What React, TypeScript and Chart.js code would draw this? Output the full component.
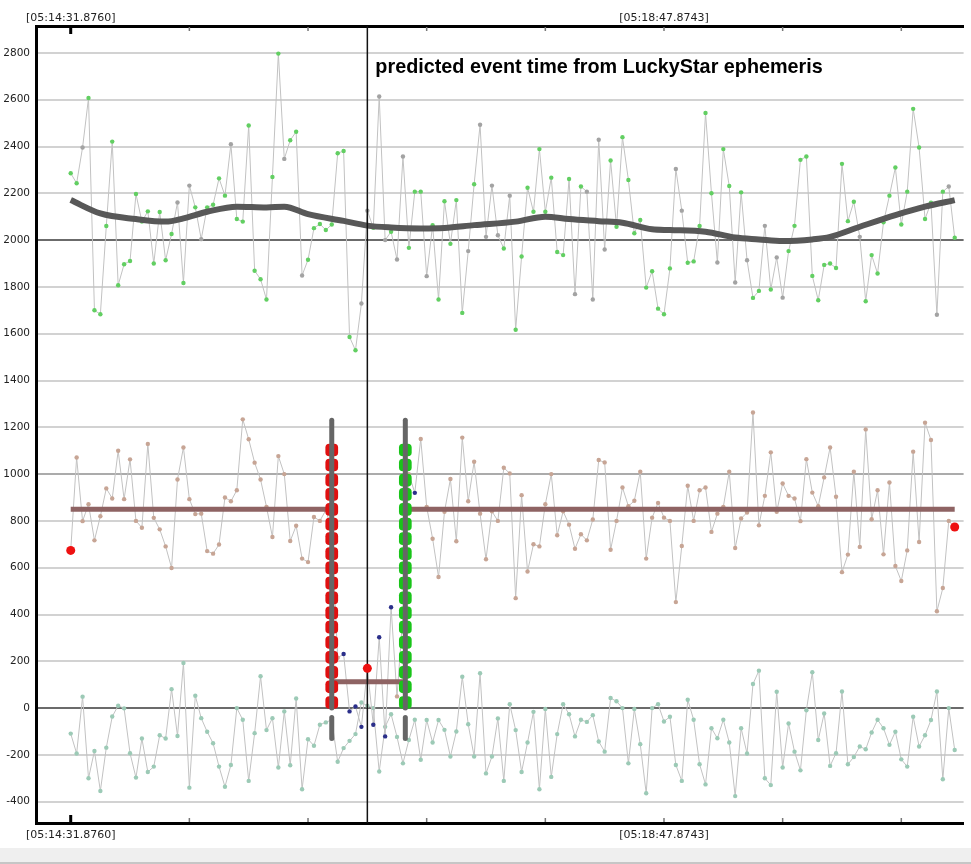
import { useEffect, useRef } from 'react'
import { Chart, registerables } from 'chart.js'

Chart.register(...registerables)

// frame index axis (2.56 s per frame)
const X_MIN = -5.85
const X_MAX = 150.5
const Y_MIN = -491
const Y_MAX = 2915
const X_TICKS = [0, 20, 40, 60, 80, 100, 120, 140]
const X_TICK_LABELS: Record<number, string> = { 0: '[05:14:31.8760]', 100: '[05:18:47.8743]' }
const Y_TICKS = [-400, -200, 0, 200, 400, 600, 800, 1000, 1200, 1400, 1600, 1800, 2000, 2200, 2400, 2600, 2800]

// comparison star (top)
const COMP = [
  2286, 2243, 2396, 2607, 1700, 1683, 2060, 2421, 1807, 1897,
  1911, 2197, 2079, 2123, 1900, 2120, 1914, 2026, 2161, 1817,
  2233, 2140, 2004, 2140, 2151, 2264, 2190, 2410, 2090, 2079,
  2490, 1869, 1833, 1746, 2270, 2797, 2347, 2427, 2463, 1849,
  1916, 2051, 2069, 2043, 2067, 2371, 2381, 1586, 1529, 1729,
  2126, 2053, 2614, 2000, 2036, 1917, 2357, 1967, 2207, 2207,
  1846, 2064, 1746, 2166, 1984, 2171, 1689, 1953, 2239, 2493,
  2014, 2233, 2021, 1964, 2190, 1617, 1930, 2224, 2121, 2389,
  2121, 2267, 1949, 1936, 2261, 1769, 2229, 2207, 1746, 2429,
  1960, 2340, 2057, 2440, 2257, 2029, 2086, 1797, 1867, 1707,
  1683, 1879, 2304, 2126, 1903, 1909, 2060, 2543, 2200, 1904,
  2389, 2231, 1819, 2204, 1914, 1753, 1783, 2061, 1789, 1926,
  1754, 1953, 2061, 2343, 2357, 1847, 1743, 1894, 1900, 1881,
  2326, 2081, 2164, 2014, 1739, 1936, 1857, 2076, 2190, 2310,
  2067, 2207, 2561, 2396, 2090, 2160, 1681, 2207, 2229, 2010,
]
const COMP_GRAY = [2, 18, 20, 22, 27, 36, 39, 49, 50, 52, 53, 55, 56, 60, 67, 69, 70, 71, 72, 74, 85, 87, 88, 89, 90, 102, 103, 109, 112, 114, 117, 119, 120, 133, 146, 148]

// smoothed comparison
const TREND_X = [0, 5, 11, 16, 19, 23, 28, 33, 36, 40, 46, 50, 54, 59, 63, 68, 75, 80, 84, 89, 93, 98, 101, 107, 112, 116, 120, 125, 128, 133, 139, 144, 149]
const TREND_Y = [2171, 2114, 2090, 2079, 2093, 2121, 2143, 2139, 2143, 2111, 2082, 2062, 2054, 2050, 2052, 2064, 2079, 2100, 2090, 2081, 2074, 2046, 2043, 2036, 2011, 2003, 1996, 2003, 2014, 2057, 2107, 2143, 2171]

// target star (middle)
const TARGET = [
  674, 1071, 799, 871, 717, 820, 939, 896, 1100, 893,
  1063, 800, 771, 1129, 813, 764, 691, 599, 977, 1114,
  893, 829, 831, 671, 660, 699, 900, 884, 931, 1234,
  1149, 1049, 977, 860, 731, 1077, 1000, 714, 779, 639,
  624, 817, 800, 846, 760, 215, 231, -14, 7, -80,
  170, -71, 303, -121, 431, 50, 400, 1000, 920, 1150,
  860, 724, 560, 839, 979, 713, 1156, 884, 1053, 831,
  636, 841, 800, 1027, 1003, 470, 910, 584, 700, 691,
  871, 1000, 739, 841, 784, 681, 743, 717, 806, 1060,
  1050, 677, 800, 943, 863, 886, 1010, 639, 814, 877,
  814, 800, 453, 693, 950, 800, 931, 943, 753, 831,
  860, 1010, 684, 810, 836, 1263, 781, 907, 1093, 839,
  960, 907, 896, 799, 1064, 921, 863, 986, 1114, 903,
  581, 656, 1010, 689, 1191, 807, 931, 657, 964, 607,
  543, 674, 1096, 710, 1220, 1146, 414, 513, 800, 774,
]
const TARGET_BLUE = [46, 47, 48, 49, 51, 52, 53, 54, 58]

// third trace (bottom)
const THIRD = [
  -109, -194, 49, -300, -183, -354, -169, -36, 10, -1,
  -193, -297, -130, -273, -250, -116, -130, 81, -119, 193,
  -340, 53, -43, -101, -150, -250, -336, -243, 0, -50,
  -311, -107, 136, -94, -43, -254, -14, -244, 41, -347,
  -133, -161, -71, -61, -50, -229, -171, -140, -111, 24,
  10, 0, -271, -80, -26, -123, -236, -136, -50, -221,
  -51, -147, -51, -93, -207, -100, 134, -69, -207, 149,
  -279, -207, -44, -311, 17, -94, -273, -147, -16, -347,
  -4, -294, -111, 17, -26, -121, -50, -59, -30, -143,
  -186, 43, 29, 0, -236, -4, -154, -364, 0, 17,
  -57, -37, -243, -311, 36, -50, -240, -326, -86, -129,
  -50, -147, -376, -86, -194, 103, 160, -300, -329, 70,
  -254, -66, -186, -266, -9, 153, -136, -23, -247, -193,
  71, -240, -209, -164, -176, -104, -50, -86, -157, -101,
  -219, -250, -37, -164, -116, -51, 71, -304, 0, -179,
]

// fitted event
const D_TIME = 44.0
const R_TIME = 56.4
const PREDICTED = 50
const BASE_LEVEL = 850
const EVENT_LEVEL = 113
const STEP_LEVELS = [24, 91, 153, 217, 281, 346, 407, 471, 534, 599, 660, 724, 786, 849, 913, 974, 1039, 1103]
const BAR_UPPER = [0, 1230]
const BAR_LOWER = [-130, -40]
const RED_X = [0, 50, 149]
const RED_Y = [674, 170, 774]

const NOTE = 'predicted event time from LuckyStar ephemeris'
const NOTE_Y = 2713

const series = (ys: number[]) => ys.map((y, i) => ({ x: i, y }))
const vline = (x: number, ys: number[]) => ys.map(y => ({ x, y }))

const overlay = {
  id: 'overlay',
  afterDatasetsDraw(chart: any) {
    const { ctx, chartArea, scales } = chart
    ctx.save()
    X_TICKS.forEach(v => {
      const px = scales.x.getPixelForValue(v)
      const big = v === 0
      const w = big ? 3 : 1.5
      const h = big ? 7 : 4
      ctx.fillStyle = big ? '#000' : '#777'
      ctx.fillRect(px - w / 2, chartArea.top + 1, w, h)
      ctx.fillRect(px - w / 2, chartArea.bottom - 1 - h, w, h)
    })
    ctx.fillStyle = '#000'
    ctx.font = 'bold 19.8px "Liberation Sans", Arial, sans-serif'
    ctx.textBaseline = 'alphabetic'
    ctx.fillText(NOTE, scales.x.getPixelForValue(PREDICTED) + 8, scales.y.getPixelForValue(NOTE_Y))
    ctx.restore()
  },
}

export default function App() {
  const canvasRef = useRef<HTMLCanvasElement>(null)
  const chartRef = useRef<Chart | null>(null)

  useEffect(() => {
    document.body.style.margin = '0'
    if (!canvasRef.current) return
    if (chartRef.current) chartRef.current.destroy()

    const seriesStyle = {
      borderColor: '#c2c2c2',
      borderWidth: 1,
      pointRadius: 2.2,
      pointBorderWidth: 0,
      order: 8,
    }
    const xAxis = (position: 'top' | 'bottom', height: number, padding: number) => ({
      type: 'linear' as const,
      position,
      min: X_MIN,
      max: X_MAX,
      afterBuildTicks: (s: any) => { s.ticks = X_TICKS.map(v => ({ value: v })) },
      afterFit: (s: any) => { s.height = height },
      ticks: {
        autoSkip: false,
        maxRotation: 0,
        minRotation: 0,
        padding,
        color: '#222',
        font: { family: '"DejaVu Sans", sans-serif', size: 11 },
        callback: (v: any) => X_TICK_LABELS[v] ?? '',
      },
      grid: { drawOnChartArea: false, drawTicks: false },
      border: { color: '#000', width: 3 },
    })

    chartRef.current = new Chart(canvasRef.current, {
      type: 'line',
      data: {
        datasets: [
          { data: vline(PREDICTED, [Y_MIN, Y_MAX]), borderColor: '#111', borderWidth: 1.5, pointRadius: 0, order: 3 },
          { data: RED_X.map((x, k) => ({ x, y: RED_Y[k] })), showLine: false, pointRadius: 4.5, pointBorderWidth: 0, pointBackgroundColor: '#ee1111', order: 0 },
          { data: vline(D_TIME, BAR_UPPER), borderColor: '#666', borderWidth: 5, borderCapStyle: 'round', pointRadius: 0, order: 1 },
          { data: vline(D_TIME, BAR_LOWER), borderColor: '#666', borderWidth: 5, borderCapStyle: 'round', pointRadius: 0, order: 1 },
          { data: vline(R_TIME, BAR_UPPER), borderColor: '#666', borderWidth: 5, borderCapStyle: 'round', pointRadius: 0, order: 1 },
          { data: vline(R_TIME, BAR_LOWER), borderColor: '#666', borderWidth: 5, borderCapStyle: 'round', pointRadius: 0, order: 1 },
          { data: vline(D_TIME, STEP_LEVELS), showLine: false, pointStyle: 'rectRounded', pointRadius: 7.4, pointBorderWidth: 0, pointBackgroundColor: '#e01010', order: 2 },
          { data: vline(R_TIME, STEP_LEVELS), showLine: false, pointStyle: 'rectRounded', pointRadius: 7.4, pointBorderWidth: 0, pointBackgroundColor: '#19c419', order: 2 },
          { data: [{ x: 0, y: BASE_LEVEL }, { x: D_TIME, y: BASE_LEVEL }], borderColor: '#8e6363', borderWidth: 5, pointRadius: 0, order: 4 },
          { data: [{ x: R_TIME, y: BASE_LEVEL }, { x: 149, y: BASE_LEVEL }], borderColor: '#8e6363', borderWidth: 5, pointRadius: 0, order: 4 },
          { data: [{ x: D_TIME, y: EVENT_LEVEL }, { x: R_TIME, y: EVENT_LEVEL }], borderColor: '#8e6363', borderWidth: 5, pointRadius: 0, order: 4 },
          { data: TREND_X.map((x, k) => ({ x, y: TREND_Y[k] })), borderColor: '#585858', borderWidth: 6, pointRadius: 0, cubicInterpolationMode: 'monotone', order: 5 },
          {
            ...seriesStyle,
            data: series(COMP),
            pointBackgroundColor: COMP.map((_, i) => (COMP_GRAY.includes(i) ? '#a3a3a3' : '#62cf62')),
          },
          {
            ...seriesStyle,
            data: series(TARGET),
            pointBackgroundColor: TARGET.map((_, i) => (TARGET_BLUE.includes(i) ? '#2b2f8a' : '#c7a595')),
          },
          { ...seriesStyle, data: series(THIRD), pointBackgroundColor: '#9ccab6' },
        ] as any,
      },
      options: {
        animation: false,
        responsive: true,
        maintainAspectRatio: false,
        layout: { padding: 0 },
        events: [],
        plugins: { legend: { display: false }, tooltip: { enabled: false } },
        scales: {
          x: xAxis('bottom', 25, 6),
          x2: xAxis('top', 26, 1),
          y: {
            type: 'linear',
            min: Y_MIN,
            max: Y_MAX,
            afterBuildTicks: (s: any) => { s.ticks = Y_TICKS.map(v => ({ value: v })) },
            afterFit: (s: any) => { s.width = 36 },
            ticks: {
              padding: 6,
              color: '#222',
              font: { family: '"DejaVu Sans", sans-serif', size: 10.5 },
              callback: (v: any) => String(v),
            },
            grid: {
              drawTicks: false,
              lineWidth: 2,
              color: (c: any) => {
                const v = c.tick?.value
                if (v === 0 || v === 2000) return '#6b6b6b'
                if (v === 1000) return '#ababab'
                return '#d2d2d2'
              },
            },
            border: { color: '#000', width: 3 },
          },
        },
      },
      plugins: [overlay],
    })

    return () => { chartRef.current?.destroy() }
  }, [])

  return (
    <div>
      <div style={{ position: 'relative', width: 971, height: 848 }}>
        <canvas ref={canvasRef} role="img" aria-label="light curve with predicted event time" />
      </div>
      <div style={{ width: 971, height: 14, background: '#efefef', borderBottom: '2px solid #c6c6c6' }} />
    </div>
  )
}
